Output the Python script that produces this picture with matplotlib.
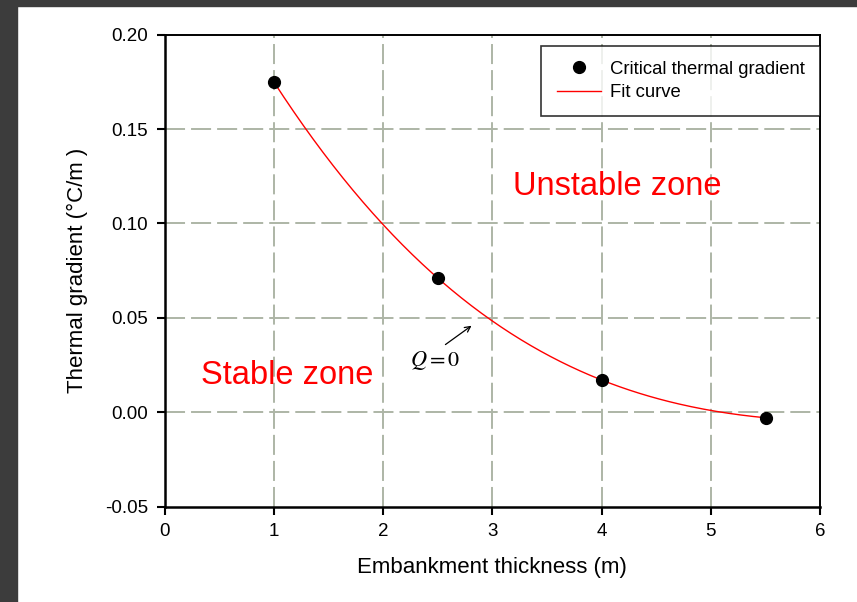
import numpy as np
import matplotlib.pyplot as plt
from matplotlib.patches import Rectangle

plt.rcParams["font.family"] = ["Liberation Sans", "DejaVu Sans"]
plt.rcParams["mathtext.fontset"] = "stix"

# measured critical thermal gradients
thickness = [1.0, 2.5, 4.0, 5.5]
gradient = [0.175, 0.0711, 0.0171, -0.0029]

x_ticks = [0, 1, 2, 3, 4, 5, 6]
y_ticks = [-0.05, 0.00, 0.05, 0.10, 0.15, 0.20]

coef = np.polyfit(thickness, gradient, 3)
x_fit = np.linspace(min(thickness), max(thickness), 200)
y_fit = np.polyval(coef, x_fit)

fig = plt.figure(figsize=(8.57, 6.02), dpi=100)
# dark screenshot border on the left and top
fig.patches.append(Rectangle((0, 0), 17 / 857, 1, transform=fig.transFigure,
                             color="#3c3c3c", zorder=-1))
fig.patches.append(Rectangle((0, 1 - 6 / 602), 1, 6 / 602, transform=fig.transFigure,
                             color="#3c3c3c", zorder=-1))

ax = fig.add_axes([0.192, 0.1583, 0.765, 0.7842])

ax.plot(thickness, gradient, "o", color="black", markersize=8.5, zorder=4,
        label="Critical thermal gradient")
ax.plot(x_fit, y_fit, color="red", linewidth=1.0, zorder=3, label="Fit curve")

ax.set_xlim(0, 6)
ax.set_ylim(-0.05, 0.20)
ax.set_xticks(x_ticks)
ax.set_yticks(y_ticks)
ax.set_yticklabels([f"{v:.2f}" for v in y_ticks])
ax.tick_params(labelsize=13.5, length=6, width=1.5, direction="out", pad=6)

for v in x_ticks[1:-1]:
    ax.axvline(v, color="#adb5a6", linewidth=1.4, dashes=(10.3, 3.1), zorder=1)
for v in y_ticks[1:-1]:
    ax.axhline(v, color="#adb5a6", linewidth=1.4, dashes=(10.3, 3.1), zorder=1)

for side in ["left", "bottom"]:
    ax.spines[side].set_linewidth(1.8)
for side in ["top", "right"]:
    ax.spines[side].set_linewidth(1.4)

ax.set_xlabel("Embankment thickness (m)", fontsize=16, labelpad=12)
ax.set_ylabel("Thermal gradient (°C/m )", fontsize=16, labelpad=12)

ax.text(4.14, 0.1197, "Unstable zone", color="red", fontsize=23.5,
        ha="center", va="center")
ax.text(1.125, 0.0195, "Stable zone", color="red", fontsize=23.5,
        ha="center", va="center")
ax.text(2.48, 0.0272, "$Q = 0$", fontsize=16, ha="center", va="center")
ax.annotate("", xy=(2.83, 0.0467), xytext=(2.55, 0.035),
            arrowprops=dict(arrowstyle="->", color="black", linewidth=0.9))

leg = ax.legend(loc="upper right", bbox_to_anchor=(1.0, 1 - 11 / 472),
                fontsize=13.3, frameon=True, fancybox=False, edgecolor="black",
                borderaxespad=0, handlelength=2.4, handletextpad=0.5,
                borderpad=0.82, labelspacing=0.35)
leg.get_frame().set_linewidth(1.2)

fig.savefig("out.png", dpi=100)
